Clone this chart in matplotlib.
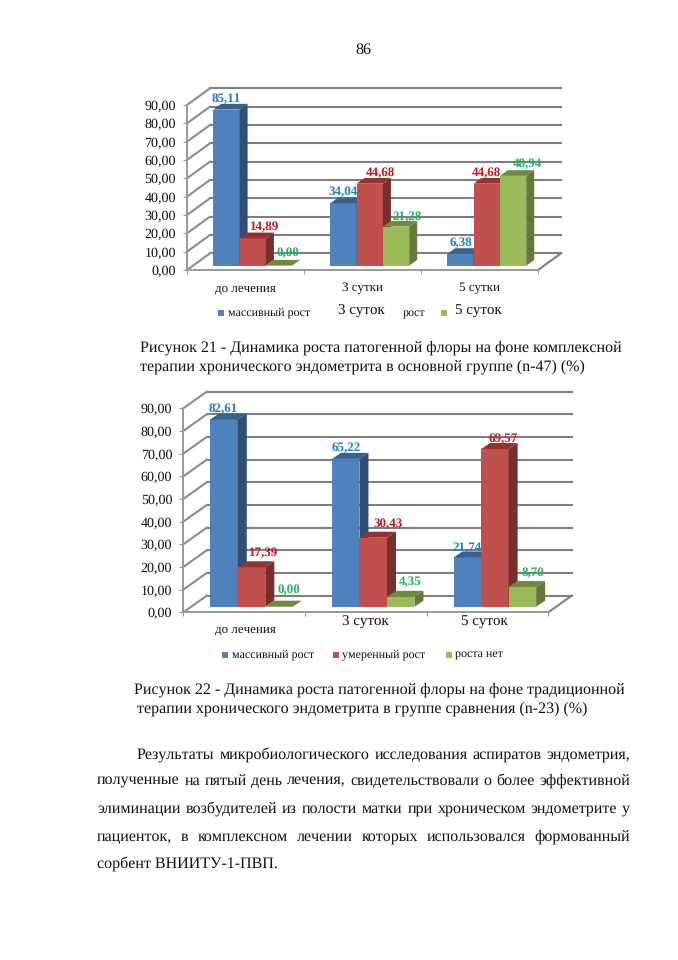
import matplotlib
matplotlib.use("Agg")
import matplotlib.pyplot as plt
from matplotlib.patches import Polygon

plt.rcParams['font.family'] = ['Liberation Serif', 'DejaVu Sans']
plt.rcParams['text.hinting'] = 'no_hinting'
plt.rcParams['text.hinting_factor'] = 1

W, H = 678, 960
BLUE = ('#4f81bd', '#2f4f77', '#38618f')
RED = ('#c0504d', '#7a2e2c', '#93322f')
GREEN = ('#9bbb59', '#65793a', '#6f8a3e')
LABEL_COLORS = ['#1f7fc4', '#c4141e', '#1fb060']

y_ticks = [0, 10, 20, 30, 40, 50, 60, 70, 80, 90]
y_tick_labels = ['0,00', '10,00', '20,00', '30,00', '40,00', '50,00', '60,00', '70,00', '80,00', '90,00']

cats_1 = ['до лечения', '3 сутки', '5 сутки']
massive_1 = [85.11, 34.04, 6.38]
moderate_1 = [14.89, 44.68, 44.68]
none_1 = [0.00, 21.28, 48.94]

massive_2 = [82.61, 65.22, 21.74]
moderate_2 = [17.39, 30.43, 69.57]
none_2 = [0.00, 4.35, 8.70]

fig = plt.figure(figsize=(W / 100, H / 100), dpi=100, facecolor='white')


def chart(box, series, wall, base, depth, bar_w, bar_x0, lab_off, xlabels):
    left, right, y0, y90 = box
    ax = fig.add_axes([left / W, 1 - y0 / H, (right - left) / W, (y0 - y90) / H])
    ax.set_xlim(0, 3)
    ax.set_ylim(0, 90)
    ax.patch.set_alpha(0)
    cat_px = (right - left) / 3
    unit_px = (y0 - y90) / 90
    DX, DY = wall[0] / cat_px, wall[1] / unit_px
    for v in y_ticks:
        ax.plot([DX, 3 + DX], [v + DY, v + DY], color='#7f7f7f', lw=1.5, clip_on=False, zorder=1)
        ax.plot([0, DX], [v, v + DY], color='#8c8c8c', lw=1.5, clip_on=False, zorder=1)
    ax.plot([3, 3 + DX], [0, DY], color='#7f7f7f', lw=1.5, clip_on=False, zorder=1)
    for s in ['top', 'right']:
        ax.spines[s].set_visible(False)
    for s in ['left', 'bottom']:
        ax.spines[s].set_color('#999999')
        ax.spines[s].set_linewidth(1.4)
    ax.set_yticks(y_ticks)
    ax.set_yticklabels(y_tick_labels, fontsize=9.8, color='#111111')
    ax.tick_params(axis='y', length=3, pad=5, color='#999999')
    ax.set_xticks([0, 1, 2, 3])
    ax.set_xticklabels([])
    ax.tick_params(axis='x', length=3, color='#999999')
    if xlabels:
        ax.set_xticks([0.5, 1.5, 2.5], minor=True)
        ax.set_xticklabels(xlabels, minor=True, fontsize=9, color='#111111')
        ax.tick_params(axis='x', which='minor', length=0, pad=9)

    bw = bar_w / cat_px
    bx, by = base[0] / cat_px, base[1] / unit_px
    dx, dy = depth[0] / cat_px, depth[1] / unit_px
    for g in range(3):
        for k, (vals, cols) in enumerate(zip(series, (BLUE, RED, GREEN))):
            v = vals[g]
            x = g + bar_x0 / cat_px + k * bw
            z = 3 + g + k * 0.1
            ax.bar(x, v, width=bw, bottom=by, align='edge', color=cols[0],
                   clip_on=False, zorder=z, linewidth=0)
            t = by + v
            ax.add_patch(Polygon([(x + bw, by), (x + bw + dx, by + dy), (x + bw + dx, t + dy), (x + bw, t)],
                                 closed=True, fc=cols[1], ec='none', clip_on=False, zorder=z))
            ax.add_patch(Polygon([(x, t), (x + dx, t + dy), (x + bw + dx, t + dy), (x + bw, t)],
                                 closed=True, fc=cols[2], ec='none', clip_on=False, zorder=z))
            ox, oy = lab_off[k][g]
            ax.annotate(f'{v:.2f}'.replace('.', ','), (x + bw / 2, t), xytext=(ox * 0.72, oy * 0.72),
                        textcoords='offset points', ha='center', va='center', fontsize=9,
                        fontweight='bold', color=LABEL_COLORS[k], zorder=20, annotation_clip=False)
    return ax


chart((187, 538, 270, 105), (massive_1, moderate_1, none_1), (23, 16.7), (7.3, 4.4), (8, 5.7), 26.3, 26.3,
      [[(0, 11), (0, 11), (0, 11)], [(12, 11), (11, 11), (0, 11)], [(9, 13), (11, 10), (14, 12)]], cats_1)
chart((183.3, 548.3, 612.3, 408.3), (massive_2, moderate_2, none_2), (23.4, 16.6), (5.6, 5.6), (9, 6), 27.5, 27,
      [[(-1, 11), (0, 11), (0, 10)], [(12, 14), (15, 14), (8, 10)], [(10, 17), (9, 15), (11, 14)]], None)

page = fig.add_axes([0, 0, 1, 1], zorder=50)
page.set_xlim(0, W)
page.set_ylim(H, 0)
page.axis('off')


def txt(x, y, s, size=11.5, ha='left', **kw):
    return page.text(x, y, s, fontsize=size, ha=ha, va='center', color='#111111', **kw)


def mark(x, y, color):
    page.scatter([x], [y], marker='s', s=17, color=color, linewidths=0)


txt(363, 50, '86', 11.5, ha='center')

# legend of chart 1, partly overprinted in the source
mark(221, 313, BLUE[0])
txt(228, 313, 'массивный рост', 8.9)
txt(338, 311, '3 суток', 10.8)
txt(403, 314, 'рост', 8.9)
mark(444, 313, GREEN[0])
txt(455, 311, '5 суток', 10.8)

txt(140, 348, 'Рисунок 21 - Динамика роста патогенной флоры на фоне комплексной')
txt(140, 367, 'терапии хронического эндометрита в основной группе (n-47) (%)')

# x labels of chart 2
txt(215, 629, 'до лечения', 9)
txt(342, 622, '3 суток', 10.8)
txt(461, 622, '5 суток', 10.8)

# legend of chart 2
mark(225, 655, BLUE[0])
txt(232, 655, 'массивный рост', 8.9)
mark(336, 655, RED[0])
txt(342, 655, 'умеренный рост', 8.9)
mark(449, 655, GREEN[0])
txt(455, 655, 'роста нет', 8.9)

txt(134, 690, 'Рисунок 22 - Динамика роста патогенной флоры на фоне традиционной')
txt(137, 709, 'терапии хронического эндометрита в группе сравнения (n-23) (%)')

renderer = fig.canvas.get_renderer()


def justified(line, x0, x1, y, size=11.5):
    words = line.split()
    items = [txt(0, y, w, size) for w in words]
    widths = [t.get_window_extent(renderer).width for t in items]
    gap = (x1 - x0 - sum(widths)) / (len(words) - 1)
    x = x0
    for t, w in zip(items, widths):
        t.set_x(x)
        x += w + gap


justified('Результаты микробиологического исследования аспиратов эндометрия,', 137, 630, 755)
justified('полученные на пятый день лечения, свидетельствовали о более эффективной', 97, 630, 781)
justified('элиминации возбудителей из полости матки при хроническом эндометрите у', 97, 630, 809)
justified('пациенток, в комплексном лечении которых использовался формованный', 97, 630, 837)
txt(97, 864, 'сорбент ВНИИТУ-1-ПВП.')

fig.savefig('out.png', dpi=100, facecolor='white')
